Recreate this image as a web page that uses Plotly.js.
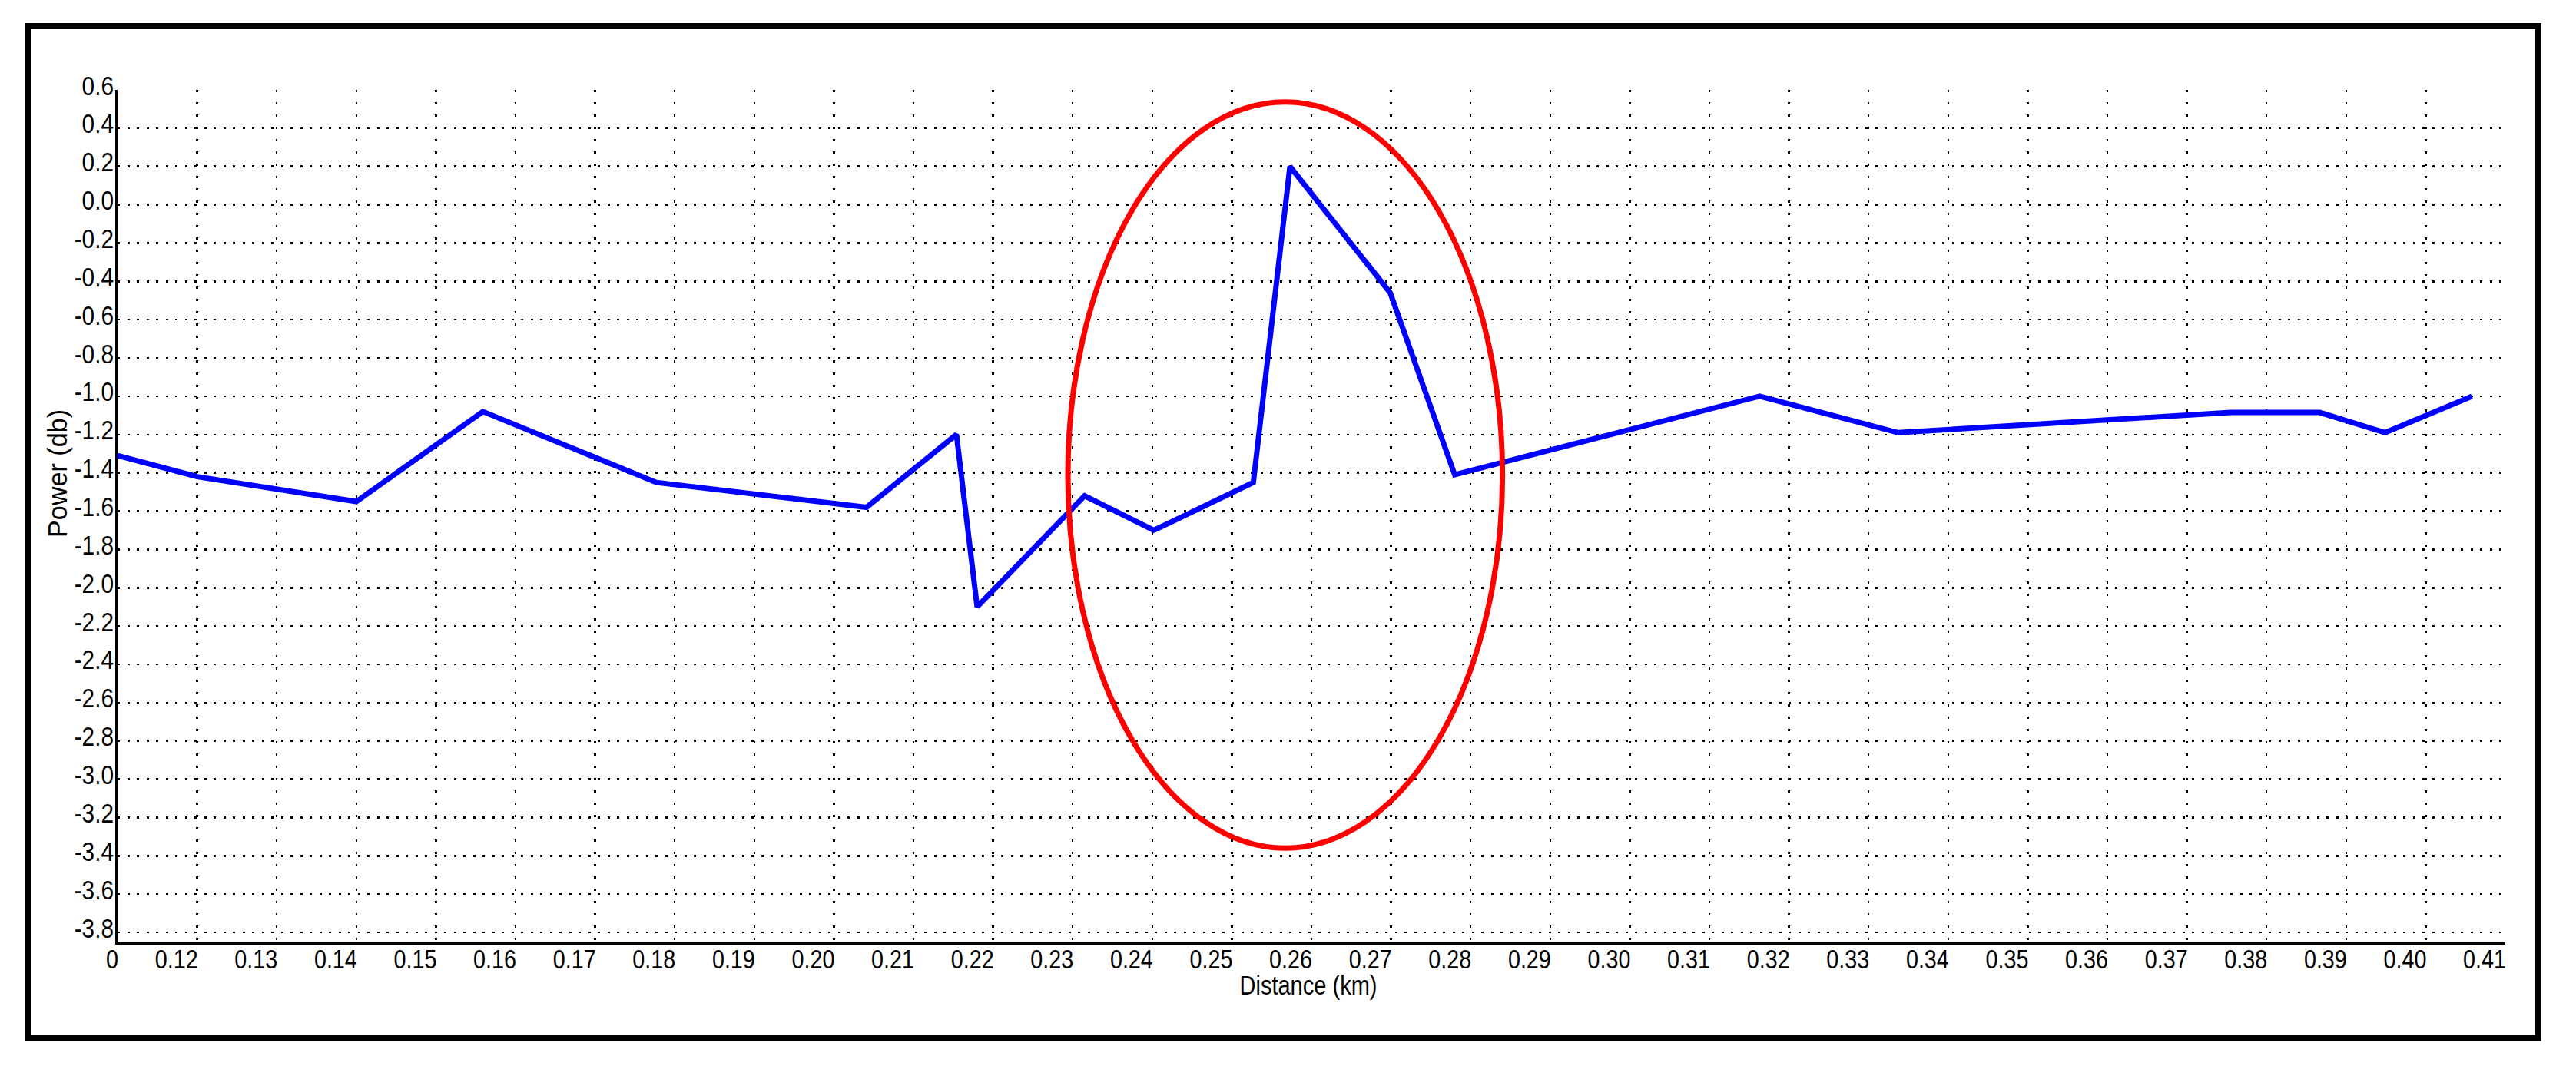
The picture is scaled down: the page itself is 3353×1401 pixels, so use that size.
<!DOCTYPE html>
<html>
<head>
<meta charset="utf-8">
<script src="https://cdn.plot.ly/plotly-3.0.1.min.js"></script>
<style>
  html, body { margin: 0; padding: 0; background: #ffffff; }
  #chart { width: 3353px; height: 1401px; }
</style>
</head>
<body>
<div id="chart"></div>
<script>
// ---- data ----
const distanceKm = [0.110, 0.120, 0.140, 0.1559, 0.1777, 0.2041, 0.2154, 0.2180, 0.2315, 0.2402,
                    0.2527, 0.2573, 0.2699, 0.2780, 0.3163, 0.3337, 0.3755, 0.3867, 0.3949, 0.4058];
const powerDb    = [-1.31, -1.42, -1.55, -1.08, -1.45, -1.58, -1.20, -2.10, -1.52, -1.70,
                    -1.45, 0.20, -0.46, -1.41, -1.00, -1.19, -1.085, -1.085, -1.19, -1.00];

const xTickVals = [0.11, 0.12, 0.13, 0.14, 0.15, 0.16, 0.17, 0.18, 0.19, 0.20, 0.21, 0.22, 0.23, 0.24, 0.25, 0.26,
                   0.27, 0.28, 0.29, 0.30, 0.31, 0.32, 0.33, 0.34, 0.35, 0.36, 0.37, 0.38, 0.39, 0.40, 0.41];
const xTickText = ["0", "0.12", "0.13", "0.14", "0.15", "0.16", "0.17", "0.18", "0.19", "0.20", "0.21", "0.22", "0.23",
                   "0.24", "0.25", "0.26", "0.27", "0.28", "0.29", "0.30", "0.31", "0.32", "0.33", "0.34", "0.35",
                   "0.36", "0.37", "0.38", "0.39", "0.40", "0.41"];
const yTickVals = [0.6, 0.4, 0.2, 0.0, -0.2, -0.4, -0.6, -0.8, -1.0, -1.2, -1.4, -1.6, -1.8, -2.0,
                   -2.2, -2.4, -2.6, -2.8, -3.0, -3.2, -3.4, -3.6, -3.8];
const yTickText = ["0.6", "0.4", "0.2", "0.0", "-0.2", "-0.4", "-0.6", "-0.8", "-1.0", "-1.2", "-1.4", "-1.6",
                   "-1.8", "-2.0", "-2.2", "-2.4", "-2.6", "-2.8", "-3.0", "-3.2", "-3.4", "-3.6", "-3.8"];

// highlighted region (ellipse) in data units
const highlightX = [0.2294, 0.2840];
const highlightY = [-3.36, 0.537];

// ---- layout geometry (pixels) ----
const W = 3353, H = 1401;
const M = { l: 153, r: 92, t: 117, b: 174 };
const plotW = W - M.l - M.r, plotH = H - M.t - M.b;
const px2x = px => (px - M.l) / plotW;
const px2y = py => (H - M.b - py) / plotH;

const FONT = '"Liberation Sans", Arial, sans-serif';

const trace = {
  x: distanceKm,
  y: powerDb,
  type: 'scatter',
  mode: 'lines',
  line: { color: '#0000ff', width: 7 },
  hoverinfo: 'skip',
  showlegend: false
};

const layout = {
  width: W, height: H,
  margin: M,
  paper_bgcolor: '#ffffff',
  plot_bgcolor: '#ffffff',
  showlegend: false,
  hovermode: false,
  font: { family: FONT, size: 35, color: '#000000' },
  xaxis: {
    range: [0.11, 0.41],
    tickmode: 'array',
    tickvals: xTickVals,
    ticktext: xTickText,
    ticks: '',
    ticklabelstandoff: -16,
    tickfont: { family: FONT, size: 35, color: '#000000' },
    showgrid: true,
    gridcolor: '#000000',
    gridwidth: 2.5,
    griddash: '3px,13px',
    showline: true,
    linecolor: '#000000',
    linewidth: 3,
    zeroline: false,
    title: { text: 'Distance (km)', font: { family: FONT, size: 35, color: '#000000' }, standoff: 4 },
    fixedrange: true
  },
  yaxis: {
    range: [-3.852, 0.6],
    tickmode: 'array',
    tickvals: yTickVals,
    ticktext: yTickText,
    ticks: '',
    tickfont: { family: FONT, size: 35, color: '#000000' },
    showgrid: true,
    gridcolor: '#000000',
    gridwidth: 2.5,
    griddash: '3px,9.5px',
    showline: true,
    linecolor: '#000000',
    linewidth: 3,
    zeroline: false,
    fixedrange: true
  },
  annotations: [
    {
      text: 'Power (db)',
      xref: 'paper', yref: 'paper',
      x: px2x(74), y: px2y(617),
      xanchor: 'center', yanchor: 'middle',
      textangle: -90,
      showarrow: false,
      font: { family: FONT, size: 35, color: '#000000' }
    }
  ],
  shapes: [
    {
      type: 'circle', xref: 'x', yref: 'y',
      x0: highlightX[0], x1: highlightX[1],
      y0: highlightY[0], y1: highlightY[1],
      line: { color: '#ff0000', width: 7 },
      fillcolor: 'rgba(0,0,0,0)'
    },
    {
      type: 'rect', xref: 'paper', yref: 'paper',
      x0: px2x(36), x1: px2x(3304),
      y0: px2y(1352), y1: px2y(34),
      line: { color: '#000000', width: 8 },
      fillcolor: 'rgba(0,0,0,0)'
    }
  ]
};

// narrow the text like the reference's condensed bitmap font
function condense(el, ratio, fixedLen) {
  const len = el.getComputedTextLength();
  const target = fixedLen ? fixedLen : len * ratio;
  el.setAttribute('textLength', target.toFixed(1));
  el.setAttribute('lengthAdjust', 'spacingAndGlyphs');
}
function shiftBy(el, dx, dy) {
  const tr = el.getAttribute('transform') || '';
  el.setAttribute('transform', tr + ' translate(' + dx.toFixed(2) + ',' + dy.toFixed(2) + ')');
}

const gd = document.getElementById('chart');
Plotly.newPlot(gd, [trace], layout, { displayModeBar: false, staticPlot: true }).then(() => {
  const xa = gd._fullLayout.xaxis, ya = gd._fullLayout.yaxis;
  const host = gd.getBoundingClientRect();

  // x tick labels: condensed, right-aligned to their grid line
  gd.querySelectorAll('.xtick text').forEach(t => {
    condense(t, 0.82);
    const d = t.__data__ || (t.parentNode && t.parentNode.__data__);
    if (!d) return;
    const gx = xa.l2p(d.x) + xa._offset;
    const b = t.getBoundingClientRect();
    shiftBy(t, (gx + 1) - (b.right - host.left), 1248 - ((b.top + b.bottom) / 2 - host.top));
  });

  // y tick labels: condensed, right edge just left of the axis, a little above their row
  gd.querySelectorAll('.ytick text').forEach(t => {
    condense(t, 0.85);
    const d = t.__data__ || (t.parentNode && t.parentNode.__data__);
    if (!d) return;
    const gy = ya.l2p(d.x) + ya._offset;
    const b = t.getBoundingClientRect();
    shiftBy(t, 148 - (b.right - host.left), (gy - 6) - ((b.top + b.bottom) / 2 - host.top));
  });

  // axis titles
  gd.querySelectorAll('.g-xtitle text').forEach(t => {
    condense(t, 1, 179);
    const b = t.getBoundingClientRect();
    shiftBy(t, 1703 - ((b.left + b.right) / 2 - host.left), 1282 - ((b.top + b.bottom) / 2 - host.top));
  });
  gd.querySelectorAll('.annotation-text').forEach(t => condense(t, 1, 167));
});
</script>
</body>
</html>
